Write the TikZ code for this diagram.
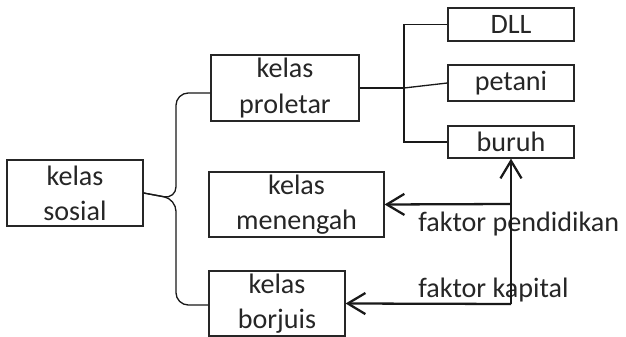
\documentclass[tikz,border=0pt]{standalone}
\usepackage{fontspec}
\setmainfont{Carlito}
\usepackage{tikz}
\usetikzlibrary{positioning,arrows.meta,calc}

\begin{document}
\begin{tikzpicture}[x=0.02cm, y=-0.02cm,
  box/.style={rectangle, draw=black!85, line width=0.7pt, align=center,
              inner sep=0pt, text=black!85,
              font=\fontsize{16}{20}\selectfont},
  ln/.style={line width=0.75pt, black!90},
  ar/.style={-{Straight Barb[length=10pt,width=12pt]}, line width=1.3pt, black!90},
  lb/.style={font=\fontsize{16}{20}\selectfont, text=black!85, inner sep=0pt}
]
\useasboundingbox (0,0) rectangle (626,337);

% kelas
\node[box, minimum width=2.72cm, minimum height=1.32cm] (sosial)   at (75,193)    {kelas\\sosial};
\node[box, minimum width=2.96cm, minimum height=1.32cm] (proletar) at (285,88)    {kelas\\proletar};
\node[box, minimum width=3.50cm, minimum height=1.30cm] (menengah) at (296.5,204.5) {kelas\\menengah};
\node[box, minimum width=2.72cm, minimum height=1.30cm] (borjuis)  at (277,303.5) {kelas\\borjuis};

% proletar
\node[box, minimum width=2.52cm, minimum height=0.66cm] (dll)    at (511,24.5) {DLL};
\node[box, minimum width=2.52cm, minimum height=0.72cm] (petani) at (511,83)   {petani};
\node[box, minimum width=2.52cm, minimum height=0.64cm] (buruh)  at (511,142)  {buruh};

% brace
\draw[ln, rounded corners=7pt] (sosial.east) -- (176,199) -- (176,93) -- ($(proletar.west)+(0,5)$);
\draw[ln, rounded corners=7pt] (sosial.east) -- (176,199) -- (176,305) -- ($(borjuis.west)+(0,1.5)$);

\coordinate (hub) at (404,88);
\draw[ln] (proletar.east) -- (hub);
\draw[ln] (dll.west) -- (dll.west -| hub) -- (buruh.west -| hub) -- (buruh.west);
\draw[ln] (hub) -- (petani.west);

% faktor
\node[lb, anchor=base west] (pendlbl) at (418,232) {faktor pendidikan};
\node[lb, anchor=base west] (kaplbl)  at (418,298) {faktor kapital};

\coordinate (pend) at (511,204);
\coordinate (kap)  at (511,304);
\draw[ar] (kap) -- (buruh.south);
\draw[ar] (pend) -- (menengah.east);
\draw[ar] (kap) -- (borjuis.east);
\end{tikzpicture}
\end{document}
